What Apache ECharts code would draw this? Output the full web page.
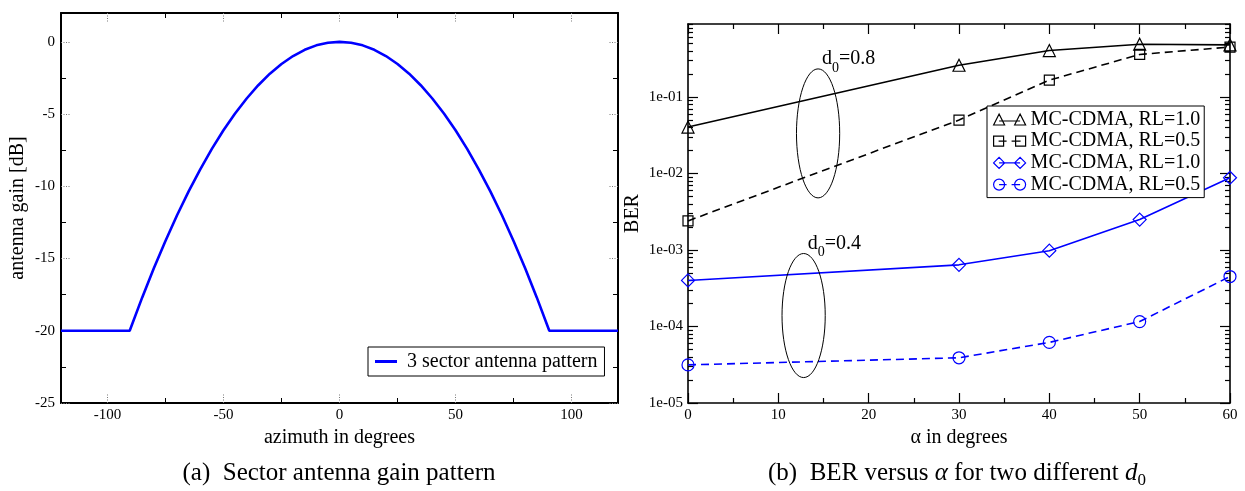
<!DOCTYPE html>
<html>
<head>
<meta charset="utf-8">
<script src="https://cdn.jsdelivr.net/npm/echarts@6/dist/echarts.min.js"></script>
<style>
  html, body { margin: 0; padding: 0; background: #fff; }
  #chart { width: 1245px; height: 491px; }
</style>
</head>
<body>
<div id="chart"></div>
<script>
// ---- Panel (a): 3-sector antenna gain pattern ----
const azimuthDeg = [-120, -90.4, -85, -80, -75, -70, -65, -60, -55, -50, -45, -40, -35, -30, -25, -20, -15, -10, -5, 0,
  5, 10, 15, 20, 25, 30, 35, 40, 45, 50, 55, 60, 65, 70, 75, 80, 85, 90.4, 120];
const gainDb = [-20, -20, -17.69, -15.67, -13.78, -12.00, -10.35, -8.82, -7.41, -6.12, -4.96, -3.92, -3.00, -2.20, -1.53, -0.98, -0.55, -0.24, -0.06, 0,
  -0.06, -0.24, -0.55, -0.98, -1.53, -2.20, -3.00, -3.92, -4.96, -6.12, -7.41, -8.82, -10.35, -12.00, -13.78, -15.67, -17.69, -20, -20];
const azimuthTicks = [-100, -50, 0, 50, 100];
const azimuthMinorTicks = [-75, -25, 25, 75];
const gainTicks = [-25, -20, -15, -10, -5, 0];
const gainMinorTicks = [-22.5, -17.5, -12.5, -7.5, -2.5];

// ---- Panel (b): BER versus alpha ----
const alphaDeg = [0, 30, 40, 50, 60];
const berRL10d08 = [0.0405, 0.26, 0.405, 0.49, 0.48];
const berRL05d08 = [0.0024, 0.050, 0.166, 0.36, 0.45];
const berRL10d04 = [4.0e-4, 6.4e-4, 9.8e-4, 2.5e-3, 8.8e-3];
const berRL05d04 = [3.15e-5, 3.9e-5, 6.2e-5, 1.16e-4, 4.5e-4];
const alphaTicks = [0, 10, 20, 30, 40, 50, 60];
const alphaMinorTicks = [5, 15, 25, 35, 45, 55];
const berTicks = [1e-5, 1e-4, 1e-3, 1e-2, 1e-1];
const berTickLabels = ['1e-05', '1e-04', '1e-03', '1e-02', '1e-01'];
const berMinorTicks = [];
[1e-5, 1e-4, 1e-3, 1e-2, 1e-1].forEach(function (decade) {
  [2, 3, 4, 5, 6, 7, 8, 9].forEach(function (m) { berMinorTicks.push(+(m * decade).toPrecision(3)); });
});

// d0 groupings (ellipse centre alpha, top and bottom BER)
const groupAlpha = [14.4, 12.8];
const groupBerTop = [0.233, 9.0e-4];
const groupBerBottom = [4.8e-3, 2.15e-5];
const groupD0 = ['0.8', '0.4'];

const SERIF = 'Liberation Serif';
const chart = echarts.init(document.getElementById('chart'), null, { renderer: 'canvas' });

// Builds a boxed frame: labelled main axis + its minor ticks, mirrored axis + its minor ticks.
function frameAxes(dim, gridIndex, scale, cfg) {
  const sides = dim === 'x' ? ['bottom', 'top'] : ['left', 'right'];
  const out = [];
  sides.forEach(function (position, s) {
    out.push(Object.assign({}, scale, {
      gridIndex: gridIndex,
      position: position,
      name: s === 0 ? cfg.name : '',
      nameLocation: 'middle',
      nameGap: cfg.nameGap,
      nameTextStyle: { fontFamily: SERIF, fontSize: 20, color: '#000' },
      axisLine: { show: true, onZero: false, lineStyle: { color: '#000', width: cfg.frameWidth } },
      axisTick: { show: true, inside: true, length: cfg.majorLength, customValues: cfg.major, lineStyle: cfg.majorStyle },
      axisLabel: {
        show: s === 0, customValues: cfg.labels, formatter: cfg.formatter, margin: cfg.labelMargin,
        fontFamily: SERIF, fontSize: 15, color: '#000'
      },
      splitLine: { show: false },
      axisPointer: { show: false }
    }));
    out.push(Object.assign({}, scale, {
      gridIndex: gridIndex,
      position: position,
      axisLine: { show: false, onZero: false },
      axisTick: { show: true, inside: true, length: cfg.minorLength, customValues: cfg.minor, lineStyle: cfg.minorStyle },
      axisLabel: { show: false },
      splitLine: { show: false },
      axisPointer: { show: false }
    }));
  });
  return out;
}

const dottedMajor = { color: '#777', width: 1, type: [1, 1.5] };
const solidMinorA = { color: '#000', width: 1 };
const solidB = { color: '#000', width: 1.2 };

const xAxes = [].concat(
  frameAxes('x', 0, { type: 'value', min: -120, max: 120 }, {
    name: 'azimuth in degrees', nameGap: 21, frameWidth: 2,
    major: azimuthTicks, labels: azimuthTicks, formatter: function (v) { return String(v); },
    majorLength: 9, majorStyle: dottedMajor, minor: azimuthMinorTicks, minorLength: 5, minorStyle: solidMinorA,
    labelMargin: 5
  }),
  frameAxes('x', 1, { type: 'value', min: 0, max: 60 }, {
    name: 'α in degrees', nameGap: 21, frameWidth: 1.6,
    major: alphaTicks, labels: alphaTicks, formatter: function (v) { return String(v); },
    majorLength: 10, majorStyle: solidB, minor: alphaMinorTicks, minorLength: 5, minorStyle: solidB,
    labelMargin: 5
  })
);

const yAxes = [].concat(
  frameAxes('y', 0, { type: 'value', min: -25, max: 2 }, {
    name: 'antenna gain [dB]', nameGap: 33, frameWidth: 2,
    major: gainTicks, labels: gainTicks, formatter: function (v) { return String(v); },
    majorLength: 9, majorStyle: dottedMajor, minor: gainMinorTicks, minorLength: 5, minorStyle: solidMinorA,
    labelMargin: 6
  }),
  frameAxes('y', 1, { type: 'log', logBase: 10, min: 1e-5, max: 0.9 }, {
    name: 'BER', nameGap: 45, frameWidth: 1.6,
    major: berTicks, labels: berTicks,
    formatter: function (v) {
      const i = berTicks.findIndex(function (t) { return Math.abs(Math.log10(t) - Math.log10(v)) < 1e-6; });
      return i >= 0 ? berTickLabels[i] : '';
    },
    majorLength: 10, majorStyle: solidB, minor: berMinorTicks, minorLength: 5, minorStyle: solidB,
    labelMargin: 5
  })
);

function pairs(xs, ys) { return xs.map(function (x, i) { return [x, ys[i]]; }); }

function berSeries(name, symbol, size, color, dashed, values) {
  return {
    name: name, type: 'line', xAxisIndex: 4, yAxisIndex: 4,
    data: pairs(alphaDeg, values),
    symbol: symbol, symbolSize: size, showSymbol: true,
    itemStyle: { color: 'rgba(0,0,0,0)', borderColor: color, borderWidth: 1.2 },
    lineStyle: { color: color, width: 1.6, type: dashed ? [8, 5] : 'solid' },
    emphasis: { disabled: true }, z: 3
  };
}

const legendNames = {
  'MC-CDMA, RL=1.0, d0=0.8': 'MC-CDMA, RL=1.0',
  'MC-CDMA, RL=0.5, d0=0.8': 'MC-CDMA, RL=0.5',
  'MC-CDMA, RL=1.0, d0=0.4': 'MC-CDMA, RL=1.0',
  'MC-CDMA, RL=0.5, d0=0.4': 'MC-CDMA, RL=0.5'
};

const legendIcons = {
  tri: 'path://M0,11L5.5,0L11,11ZM21,11L26.5,0L32,11ZM5.5,7H26.5',
  sq: 'path://M0,1H10V11H0ZM22,1H32V11H22ZM5,6H13M18,6H27',
  dia: 'path://M0,6L5.5,0.5L11,6L5.5,11.5ZM21,6L26.5,0.5L32,6L26.5,11.5ZM5.5,6H26.5',
  circ: 'path://M0,6A5.5,5.5,0,1,1,11,6A5.5,5.5,0,1,1,0,6ZM21,6A5.5,5.5,0,1,1,32,6A5.5,5.5,0,1,1,21,6ZM5.5,6H13M18,6H26.5'
};

function iconStyle(color) { return { color: 'rgba(0,0,0,0)', borderColor: color, borderWidth: 1.2 }; }

const option = {
  animation: false,
  backgroundColor: '#fff',
  grid: [
    { left: 61, right: 627, top: 13, bottom: 88, outerBoundsMode: 'none' },
    { left: 688, right: 15, top: 24, bottom: 88, outerBoundsMode: 'none' }
  ],
  xAxis: xAxes,
  yAxis: yAxes,
  legend: [
    {
      data: [{ name: '3 sector antenna pattern', icon: 'rect', itemStyle: { color: '#0000ff', borderWidth: 0 } }],
      left: 368, top: 347, orient: 'vertical',
      padding: [4, 7, 4, 7], itemWidth: 22, itemHeight: 3,
      borderColor: '#000', borderWidth: 1, backgroundColor: '#fff',
      selectedMode: false,
      textStyle: { fontFamily: SERIF, fontSize: 20, color: '#000', padding: [0, 0, 0, 5], lineHeight: 21 }
    },
    {
      data: [
        { name: 'MC-CDMA, RL=1.0, d0=0.8', icon: legendIcons.tri, itemStyle: iconStyle('#000') },
        { name: 'MC-CDMA, RL=0.5, d0=0.8', icon: legendIcons.sq, itemStyle: iconStyle('#000') },
        { name: 'MC-CDMA, RL=1.0, d0=0.4', icon: legendIcons.dia, itemStyle: iconStyle('#0000ff') },
        { name: 'MC-CDMA, RL=0.5, d0=0.4', icon: legendIcons.circ, itemStyle: iconStyle('#0000ff') }
      ],
      formatter: function (name) { return legendNames[name]; },
      left: 987, top: 106, orient: 'vertical',
      padding: [3.5, 4, 3, 6], itemWidth: 32, itemHeight: 12, itemGap: 1.7,
      borderColor: '#000', borderWidth: 1, backgroundColor: '#fff',
      selectedMode: false,
      textStyle: { fontFamily: SERIF, fontSize: 20, color: '#000', lineHeight: 20 }
    }
  ],
  series: [
    {
      name: '3 sector antenna pattern', type: 'line', xAxisIndex: 0, yAxisIndex: 0,
      data: pairs(azimuthDeg, gainDb),
      symbol: 'none', showSymbol: false,
      itemStyle: { color: '#0000ff' },
      lineStyle: { color: '#0000ff', width: 2.6 },
      emphasis: { disabled: true }, z: 3
    },
    berSeries('MC-CDMA, RL=1.0, d0=0.8', 'triangle', 12, '#000', false, berRL10d08),
    berSeries('MC-CDMA, RL=0.5, d0=0.8', 'rect', 10, '#000', true, berRL05d08),
    berSeries('MC-CDMA, RL=1.0, d0=0.4', 'diamond', 13, '#0000ff', false, berRL10d04),
    berSeries('MC-CDMA, RL=0.5, d0=0.4', 'circle', 12, '#0000ff', true, berRL05d04),
    {
      type: 'custom', xAxisIndex: 4, yAxisIndex: 4, silent: true, z: 4,
      data: groupAlpha.map(function (a, i) { return [a, groupBerTop[i], groupBerBottom[i]]; }),
      encode: { x: 0, y: [1, 2] },
      renderItem: function (params, api) {
        const top = api.coord([api.value(0), api.value(1)]);
        const bottom = api.coord([api.value(0), api.value(2)]);
        const cy = (top[1] + bottom[1]) / 2;
        const ry = (bottom[1] - top[1]) / 2;
        return {
          type: 'group',
          children: [
            { type: 'ellipse', shape: { cx: top[0], cy: cy, rx: 21.6, ry: ry },
              style: { fill: 'none', stroke: '#000', lineWidth: 1 } },
            { type: 'text', x: top[0] + 4, y: top[1] - 20,
              style: {
                text: '{n|d}{s|0}{n|=' + groupD0[params.dataIndex] + '}',
                fill: '#000', align: 'left', verticalAlign: 'top',
                rich: {
                  n: { fontFamily: SERIF, fontSize: 20, lineHeight: 20, verticalAlign: 'top', fill: '#000' },
                  s: { fontFamily: SERIF, fontSize: 14, lineHeight: 26, verticalAlign: 'bottom', fill: '#000' }
                }
              } }
          ]
        };
      }
    }
  ],
  graphic: [
    {
      type: 'text', x: 339, y: 473,
      style: {
        text: '(a)  Sector antenna gain pattern',
        fontFamily: SERIF, fontSize: 25, fill: '#000', align: 'center', verticalAlign: 'middle'
      }
    },
    {
      type: 'text', x: 957, y: 461,
      style: {
        text: '{n|(b)  BER versus }{i|α}{n| for two different }{i|d}{s|0}',
        fill: '#000', align: 'center', verticalAlign: 'top',
        rich: {
          n: { fontFamily: SERIF, fontSize: 25, lineHeight: 25, verticalAlign: 'top', fill: '#000' },
          i: { fontFamily: SERIF, fontSize: 25, lineHeight: 25, verticalAlign: 'top', fontStyle: 'italic', fill: '#000' },
          s: { fontFamily: SERIF, fontSize: 17, lineHeight: 28, verticalAlign: 'bottom', fill: '#000' }
        }
      }
    }
  ]
};

chart.setOption(option);
</script>
</body>
</html>
